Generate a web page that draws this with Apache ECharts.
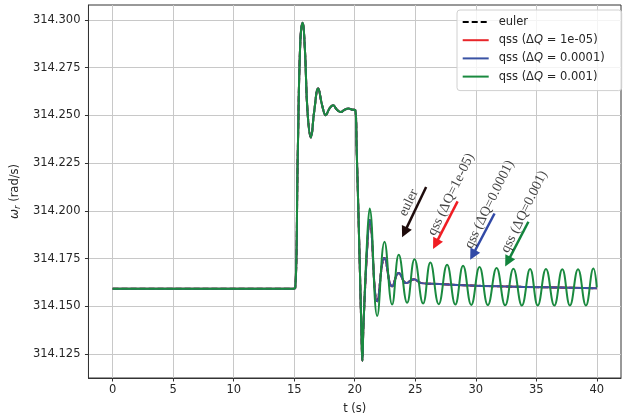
<!DOCTYPE html>
<html><head><meta charset="utf-8">
<script src="https://cdn.jsdelivr.net/npm/echarts@6/dist/echarts.min.js"></script>
<style>html,body{margin:0;padding:0;background:#fff}#c{width:624px;height:420px}</style>
</head><body><div id="c"></div>
<script>
// shared part of all curves (up to the first deep dip)
const tPre = [0, 14.9, 15.08, 15.3, 15.5, 15.69, 15.88, 16.1, 16.38, 16.65, 16.98, 17.3, 17.61, 17.9, 18.21, 18.53, 18.85, 19.17, 19.48, 19.8, 20.05, 20.16, 20.4, 20.55, 20.63, 20.72];
const vPre = [314.1593, 314.1593, 314.1595, 314.232, 314.288, 314.2985, 314.285, 314.252, 314.2385, 314.252, 314.2641, 314.2555, 314.2501, 314.2535, 314.2553, 314.2530, 314.2518, 314.2530, 314.2536, 314.2530, 314.2527, 314.2324, 314.1758, 314.138, 314.1216, 314.140];
// euler / qss 1e-05 / qss 0.0001 (overlapping)
const tMainTail = [21.05, 21.23, 21.86, 22.46, 23.09, 23.64, 24.25, 24.9, 25.5, 27.0, 29.0, 32.0, 36.0, 40.0];
const vMainTail = [314.183, 314.1952, 314.1527, 314.1753, 314.1605, 314.1675, 314.1622, 314.1642, 314.1622, 314.1617, 314.1611, 314.1605, 314.1600, 314.1595];
// qss 0.001 (sustained oscillation)
const tGreenTail = [21.05, 21.23, 21.86, 22.46, 23.09, 23.64, 24.33, 24.94, 25.65, 26.25, 26.94, 27.63, 28.31, 28.95, 29.63, 30.31, 31.00, 31.72, 32.43, 33.11, 33.81, 34.49, 35.12, 35.80, 36.49, 37.15, 37.78, 38.45, 39.10, 39.72, 40.0];
const vGreenTail = [314.188, 314.2012, 314.1450, 314.1839, 314.1510, 314.1770, 314.1519, 314.1747, 314.1515, 314.1730, 314.1512, 314.1718, 314.1510, 314.1713, 314.1508, 314.1706, 314.1507, 314.1701, 314.1506, 314.1697, 314.1505, 314.1696, 314.1505, 314.1696, 314.1505, 314.1695, 314.1505, 314.1695, 314.1505, 314.1698, 314.1600];

const xTicks = [0, 5, 10, 15, 20, 25, 30, 35, 40];
const yTicks = [314.125, 314.150, 314.175, 314.200, 314.225, 314.250, 314.275, 314.300];

const seriesNames = ['euler', 'qss (ΔQ = 1e-05)', 'qss (ΔQ = 0.0001)', 'qss (ΔQ = 0.001)'];
const legendLabels = ['euler', 'qss (Δ{i|Q} = 1e-05)', 'qss (Δ{i|Q} = 0.0001)', 'qss (Δ{i|Q} = 0.001)'];

const annotTexts = ['euler', 'qss (ΔQ=1e-05)', 'qss (ΔQ=0.0001)', 'qss (ΔQ=0.001)'];
const annotT = [24.46, 27.97, 31.13, 34.01];
const annotV = [314.2043, 314.2086, 314.2034, 314.1995];
const arrowTailT = [25.90, 28.50, 31.55, 34.35];
const arrowTailV = [314.2125, 314.2050, 314.19865, 314.19433];
const arrowHeadT = [24.11, 26.68, 29.75, 32.64];
const arrowHeadV = [314.18878, 314.18264, 314.17692, 314.17349];

const lineColors = ['#000000', '#e8262a', '#3a53a4', '#1a8a3f'];
const arrowColors = ['#1e0c0c', '#f01d23', '#3149a6', '#13843d'];

function zip(t, v) { return t.map((x, i) => [x, v[i]]); }
const mainData = zip(tPre.concat(tMainTail), vPre.concat(vMainTail));
const greenData = zip(tPre.concat(tGreenTail), vPre.concat(vGreenTail));
const seriesData = [mainData, mainData, mainData, greenData];

const font = 'DejaVu Sans';
const txt = '#262626';
const spine = '#333333';

const chart = echarts.init(document.getElementById('c'), null, {renderer: 'canvas'});

const lineSeries = seriesNames.map((n, i) => ({
  type: 'line', name: n, data: seriesData[i],
  showSymbol: false, symbol: 'none', smooth: 0.45, clip: true,
  lineStyle: {color: lineColors[i], width: 2, type: i === 0 ? [6, 3] : 'solid'},
  itemStyle: {color: lineColors[i]},
  emphasis: {disabled: true}, z: 2 + i, silent: true
}));

const annotSeries = {
  type: 'scatter', name: 'annot', symbolSize: 1, silent: true, z: 10,
  itemStyle: {color: 'rgba(0,0,0,0)'},
  data: annotTexts.map((s, i) => ({value: [annotT[i], annotV[i]], label: {formatter: s}})),
  label: {show: true, position: 'inside', rotate: 64, fontFamily: 'Liberation Serif', fontSize: 14, color: '#111111', align: 'center', verticalAlign: 'middle'},
  emphasis: {disabled: true},
  markLine: {
    silent: true, animation: false, symbol: ['none', 'triangle'], symbolSize: 11,
    label: {show: false}, emphasis: {disabled: true},
    data: arrowTailT.map((t, i) => [
      {coord: [t, arrowTailV[i]], lineStyle: {color: arrowColors[i], width: 2.5, type: 'solid'}, itemStyle: {color: arrowColors[i]}},
      {coord: [arrowHeadT[i], arrowHeadV[i]], itemStyle: {color: arrowColors[i]}}
    ])
  }
};

const option = {
  animation: false,
  backgroundColor: '#ffffff',
  grid: {left: 87, right: 3, top: 5, bottom: 39, show: true, borderColor: spine, borderWidth: 1, backgroundColor: 'transparent'},
  xAxis: {
    type: 'value', min: -2, max: 42, minInterval: 5, maxInterval: 5,
    name: 't (s)', nameLocation: 'middle', nameGap: 25,
    nameTextStyle: {fontFamily: font, fontSize: 11.5, color: txt},
    axisLine: {show: true, onZero: false, lineStyle: {color: spine, width: 1}},
    axisTick: {show: true, inside: false, length: 3.5, customValues: xTicks, lineStyle: {color: spine, width: 1}},
    axisLabel: {customValues: xTicks, margin: 6, fontFamily: font, fontSize: 11.5, color: txt, formatter: v => String(v)},
    splitLine: {show: true, lineStyle: {color: '#c8c8c8', width: 1}}
  },
  yAxis: {
    type: 'value', min: 314.11253, max: 314.3078, minInterval: 0.025, maxInterval: 0.025, scale: true,
    name: '{w|ω}{r|r} (rad/s)', nameLocation: 'middle', nameGap: 66, nameRotate: 90,
    nameTextStyle: {fontFamily: font, fontSize: 11.5, color: txt, lineHeight: 14,
      rich: {w: {fontFamily: font, fontStyle: 'italic', fontSize: 12, color: txt, lineHeight: 14},
             r: {fontFamily: font, fontStyle: 'italic', fontSize: 8.5, color: txt, lineHeight: 9, verticalAlign: 'bottom'}}},
    axisLine: {show: true, onZero: false, lineStyle: {color: spine, width: 1}},
    axisTick: {show: true, inside: false, length: 3.5, customValues: yTicks, lineStyle: {color: spine, width: 1}},
    axisLabel: {customValues: yTicks, margin: 8, fontFamily: font, fontSize: 11.5, color: txt, formatter: v => Number(v).toFixed(3)},
    splitLine: {show: true, lineStyle: {color: '#c8c8c8', width: 1}}
  },
  legend: {
    data: seriesNames.map((n, i) => ({name: n, lineStyle: {type: i === 0 ? [6, 3] : 'solid', width: 2}, itemStyle: {opacity: 0}})),
    orient: 'vertical', left: 457, top: 10,
    padding: [6, 17, 8, 4.7], itemWidth: 26, itemHeight: 12.4, itemGap: 6.2,
    backgroundColor: 'rgba(255,255,255,0.8)', borderColor: '#d0d0d0', borderWidth: 1, borderRadius: 3,
    selectedMode: false, itemStyle: {opacity: 0},
    textStyle: {fontFamily: font, fontSize: 11.5, color: txt, padding: [0, 0, 0, 5],
      rich: {i: {fontFamily: font, fontStyle: 'italic', fontSize: 11.5, color: txt}}},
    formatter: name => legendLabels[seriesNames.indexOf(name)]
  },
  series: lineSeries.concat([annotSeries])
};
chart.setOption(option);
</script>
</body></html>
